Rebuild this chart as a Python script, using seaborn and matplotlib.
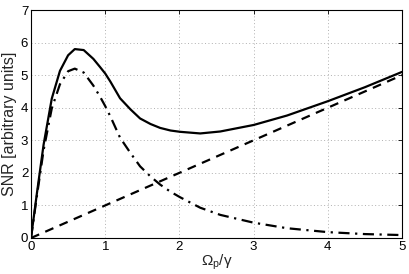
import matplotlib
matplotlib.use("Agg")
import matplotlib.pyplot as plt
import seaborn as sns
import pandas as pd

# Data
x_curve = [0, 0.08, 0.17, 0.28, 0.39, 0.5, 0.59, 0.71, 0.84, 0.93, 1.0, 1.07, 1.2,
           1.34, 1.47, 1.61, 1.74, 1.88, 2.01, 2.28, 2.55, 3.0, 3.45, 4.0, 4.5, 5.0]
snr_dashdot = [0, 1.3, 2.7, 3.98, 4.72, 5.12, 5.2, 5.08, 4.68, 4.34, 4.05, 3.73, 3.08,
               2.61, 2.2, 1.89, 1.64, 1.42, 1.25, 0.93, 0.71, 0.47, 0.3, 0.18, 0.12, 0.09]
snr_total = [0, 1.38, 2.87, 4.28, 5.13, 5.61, 5.8, 5.77, 5.5, 5.25, 5.05, 4.8, 4.29,
             3.95, 3.67, 3.5, 3.38, 3.3, 3.26, 3.21, 3.27, 3.47, 3.76, 4.2, 4.63, 5.1]
x_line = [0, 5]
snr_line = [0, 5]
xticks = [0, 1, 2, 3, 4, 5]
yticks = [0, 1, 2, 3, 4, 5, 6, 7]

sns.set_style("white")
plt.rcParams['font.family'] = ['Liberation Sans', 'DejaVu Sans']
plt.rcParams['mathtext.fontset'] = 'custom'
plt.rcParams['mathtext.rm'] = 'Liberation Sans'
plt.rcParams['mathtext.it'] = 'Liberation Sans'

fig = plt.figure(figsize=(4.09, 2.74), dpi=100)
ax = fig.add_axes([0.0758, 0.1314, 0.9072, 0.8321])

df_c = pd.DataFrame({'x': x_curve, 'total': snr_total, 'dd': snr_dashdot})
df_l = pd.DataFrame({'x': x_line, 'y': snr_line})

sns.lineplot(data=df_c, x='x', y='total', ax=ax, color='black', lw=1.6, estimator=None, sort=False)
sns.lineplot(data=df_l, x='x', y='y', ax=ax, color='black', lw=1.6, estimator=None,
             linestyle=(0, (4, 3)))
sns.lineplot(data=df_c, x='x', y='dd', ax=ax, color='black', lw=1.6, estimator=None, sort=False,
             linestyle=(0, (5, 2.5, 1, 2.5)))

ax.set_xlim(0, 5)
ax.set_ylim(0, 7)
ax.set_xticks(xticks)
ax.set_yticks(yticks)
ax.grid(True, color='#b0b0b0', linestyle=(0, (1, 2.5)), linewidth=0.7)
for s in ax.spines.values():
    s.set_visible(True)
    s.set_color('black')
    s.set_linewidth(0.8)
ax.tick_params(direction='in', top=True, right=True, length=3, width=0.6,
               labelsize=9.5, pad=2, colors='black')
ax.set_xlabel(r'$\Omega_p/\gamma$', fontsize=11, labelpad=0)
ax.set_ylabel('SNR [arbitrary units]', fontsize=11.5, labelpad=3)

fig.savefig('out.png', dpi=100)
